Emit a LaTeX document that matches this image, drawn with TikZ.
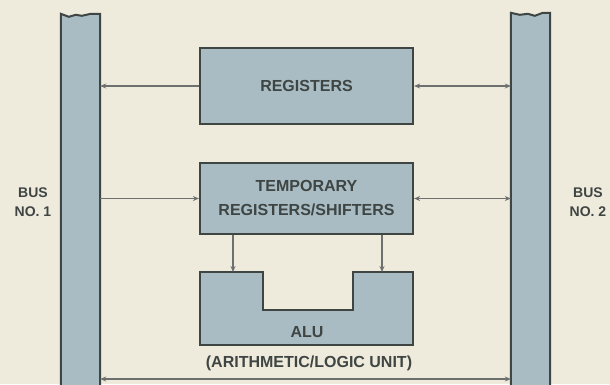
\documentclass[tikz,border=0pt]{standalone}
\usepackage{fontspec}
\setmainfont{Liberation Sans}
\usetikzlibrary{arrows.meta,positioning}
\definecolor{paper}{HTML}{EFEBDC}
\definecolor{busfill}{HTML}{A9BCC4}
\definecolor{ink}{HTML}{3E4543}
\definecolor{wire}{HTML}{6E7070}
\begin{document}
\begin{tikzpicture}[x=1pt,y=-1pt,
	box/.style={draw=ink, line width=2.2pt, fill=busfill, minimum width=213pt, text=ink,
		font=\fontsize{16}{24}\selectfont\bfseries, align=center},
	bus/.style={minimum width=39pt, minimum height=380pt, inner sep=0pt},
	lbl/.style={text=ink, font=\fontsize{14}{19}\selectfont\bfseries, align=center},
	link/.style={draw=wire, line width=1.4pt},
	tip/.style={-{Stealth[length=6pt,width=5pt]}},
	both/.style={{Stealth[length=6pt,width=5pt]}-{Stealth[length=6pt,width=5pt]}}]
		% 背景与画布大小
		\fill[paper] (0,0) rectangle (610,384);
		\useasboundingbox (0,0) rectangle (610,384);
		
		% 两条总线，顶端为撕开的锯齿
		\node[bus] (bus1) at (80.5,204) {};
		\node[bus] (bus2) at (530.5,203) {};
		\filldraw[fill=busfill, draw=ink, line width=2pt] (bus1.south west) -- (bus1.north west)
			-- ++(8,3) -- ++(7,-2) -- ++(6,1) -- ++(9,-2) -- (bus1.north east) -- (bus1.south east);
		\filldraw[fill=busfill, draw=ink, line width=2pt] (bus2.south west) -- (bus2.north west)
			-- ++(9,2) -- ++(8,-1) -- ++(7,2) -- ++(8,-3) -- (bus2.north east) -- (bus2.south east);
		\node[lbl] (lab1) at (33,202) {BUS\\NO. 1};
		\node[lbl] (lab2) at (588,202) {BUS\\NO. 2};
		
		% 寄存器与移位器
		\node[box, minimum height=76pt] (regs) at (306.5,86) {REGISTERS};
		\node[box, minimum height=71pt] (temp) at (306.5,198.5) {TEMPORARY\\REGISTERS/SHIFTERS};
		
		% 带缺口的运算器
		\node[minimum width=213pt, minimum height=73pt, inner sep=0pt] (alu) at (306.5,308.5) {};
		\filldraw[fill=busfill, draw=ink, line width=2.2pt] (alu.north west) -- ++(63,0) -- ++(0,38)
			-- ++(90,0) -- ++(0,-38) -- (alu.north east) -- (alu.south east) -- (alu.south west) -- cycle;
		\node[text=ink, font=\fontsize{16}{20}\selectfont\bfseries] (alutxt) at (307,332) {ALU};
		\node[text=ink, font=\fontsize{16}{20}\selectfont\bfseries] (aluname) at (309,363)
			{(ARITHMETIC/LOGIC UNIT)};
		\coordinate (inL) at (233,272);
		\coordinate (inR) at (382,272);
		\coordinate (bot) at (306,379);
		
		% 连线
		\draw[link,tip] (regs.west) -- (bus1.east |- regs.west);
		\draw[link,both] (regs.east) -- (bus2.west |- regs.east);
		\draw[link,tip] (bus1.east |- temp.west) -- (temp.west);
		\draw[link,both] (temp.east) -- (bus2.west |- temp.east);
		\draw[link,tip] (temp.south -| inL) -- (inL);
		\draw[link,tip] (temp.south -| inR) -- (inR);
		\draw[link,both] (bus1.east |- bot) -- (bus2.west |- bot);
	\end{tikzpicture}
\end{document}
